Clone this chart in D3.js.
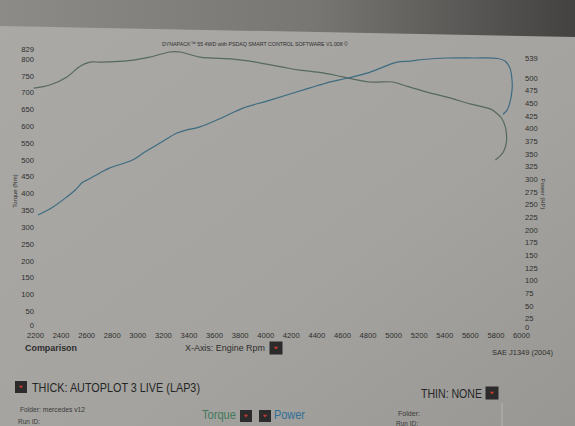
<!DOCTYPE html>
<html>
<head>
<meta charset="utf-8">
<script src="https://cdn.jsdelivr.net/npm/d3@7"></script>
<style>
  body { margin: 0; background: #a4a39f; }
  svg { display: block; font-family: "Liberation Sans", Arial, sans-serif; }
</style>
</head>
<body>
<div id="chart"></div>
<script>
// Axis ticks
const RPM_TICKS = [2200, 2400, 2600, 2800, 3000, 3200, 3400, 3600, 3800, 4000, 4200, 4400, 4600, 4800, 5000, 5200, 5400, 5600, 5800, 6000];
const TORQUE_TICKS = [0, 50, 100, 150, 200, 250, 300, 350, 400, 450, 500, 550, 600, 650, 700, 750, 800, 829];
const POWER_TICKS = [0, 25, 50, 75, 100, 125, 150, 175, 200, 225, 250, 275, 300, 325, 350, 375, 400, 425, 450, 475, 500, 539];

// Torque run (Nm), rpm falls back at the end of the pull
const TORQUE_RPM = [2190, 2317, 2450, 2552, 2630, 2708, 2966, 3099, 3256, 3334, 3490, 3748, 3881, 4139, 4272, 4452, 4608, 4819, 4999, 5077, 5234, 5421, 5601, 5760, 5808, 5847, 5878, 5886, 5862, 5800];
const TORQUE_NM = [713, 722, 746, 778, 790, 790, 796, 805, 820, 820, 805, 799, 793, 775, 766, 758, 746, 731, 731, 722, 704, 686, 666, 651, 639, 624, 597, 553, 523, 499];

// Power run (HP)
const POWER_RPM = [2223, 2341, 2450, 2513, 2575, 2607, 2708, 2786, 2966, 3044, 3177, 3310, 3388, 3490, 3670, 3826, 4014, 4194, 4350, 4483, 4639, 4796, 4921, 5030, 5132, 5234, 5421, 5624, 5820, 5875, 5914, 5930, 5930, 5914, 5891, 5859];
const POWER_HP = [229, 245, 265, 278, 294, 298, 312, 322, 338, 351, 371, 391, 397, 403, 422, 440, 454, 468, 480, 490, 499, 509, 521, 531, 533, 536, 539, 539, 538, 533, 519, 495, 476, 452, 436, 428];

const WIDTH = 575, HEIGHT = 426;
const TORQUE_COLOR = '#56695f';
const POWER_COLOR = '#3d6c82';
const TEXT_COLOR = '#2e2e2e';

const svg = d3.select('#chart').append('svg')
  .attr('width', WIDTH)
  .attr('height', HEIGHT);

// Photo paper look
const defs = svg.append('defs');
const paper = defs.append('linearGradient').attr('id', 'paper')
  .attr('x1', '0').attr('y1', '0').attr('x2', '1').attr('y2', '1');
paper.append('stop').attr('offset', '0').attr('stop-color', '#aaa9a5');
paper.append('stop').attr('offset', '0.6').attr('stop-color', '#a4a39f');
paper.append('stop').attr('offset', '1').attr('stop-color', '#989793');

const shadow = defs.append('linearGradient').attr('id', 'shadow')
  .attr('x1', '0').attr('y1', '0').attr('x2', '1').attr('y2', '0');
shadow.append('stop').attr('offset', '0').attr('stop-color', '#8d8b88');
shadow.append('stop').attr('offset', '0.55').attr('stop-color', '#777673');
shadow.append('stop').attr('offset', '1').attr('stop-color', '#434240');

svg.append('rect').attr('width', WIDTH).attr('height', HEIGHT).attr('fill', 'url(#paper)');
svg.append('path')
  .attr('d', `M0,0 L${WIDTH},0 L${WIDTH},37 L0,26 Z`)
  .attr('fill', 'url(#shadow)');

// Scales (right side sits a bit lower in the photo)
const x = d3.scaleLinear().domain([2200, 6000]).range([35, 521]);
const yT = d3.scaleLinear().domain([0, 829]).range([328, 49]);
const yP = d3.scaleLinear().domain([0, 539]).range([331, 58]);

// Axes, no lines, labels only
const xAxis = svg.append('g')
  .attr('transform', `translate(0, 329)`)
  .call(d3.axisBottom(x).tickValues(RPM_TICKS).tickSize(0).tickPadding(4).tickFormat(d3.format('d')));

const yAxisLeft = svg.append('g')
  .attr('transform', `translate(36, 0)`)
  .call(d3.axisLeft(yT).tickValues(TORQUE_TICKS).tickSize(0).tickPadding(2));

const yAxisRight = svg.append('g')
  .attr('transform', `translate(523, 0)`)
  .call(d3.axisRight(yP).tickValues(POWER_TICKS).tickSize(0).tickPadding(2));

[xAxis, yAxisLeft, yAxisRight].forEach(a => {
  a.select('.domain').remove();
  a.selectAll('text')
    .attr('fill', TEXT_COLOR)
    .style('font-size', '7.6px')
    .style('font-family', '"Liberation Sans", Arial, sans-serif');
});
// zero labels sit a touch higher so they clear the rpm labels
yAxisLeft.selectAll('.tick').filter(d => d === 0).select('text').attr('dy', '-0.05em');
yAxisRight.selectAll('.tick').filter(d => d === 0).select('text').attr('dy', '-0.15em');

// Axis titles
svg.append('text')
  .attr('transform', `translate(17, 191)rotate(-90)`)
  .attr('text-anchor', 'middle')
  .attr('fill', TEXT_COLOR)
  .style('font-size', '6px')
  .text('Torque (Nm)');

svg.append('text')
  .attr('transform', `translate(541, 194)rotate(90)`)
  .attr('text-anchor', 'middle')
  .attr('fill', TEXT_COLOR)
  .style('font-size', '6px')
  .text('Power (HP)');

svg.append('text')
  .attr('x', 162).attr('y', 46)
  .attr('fill', TEXT_COLOR)
  .attr('textLength', 186).attr('lengthAdjust', 'spacingAndGlyphs')
  .style('font-size', '6.2px')
  .text('DYNAPACK™ 55 4WD with PSDAQ SMART CONTROL SOFTWARE V1.008 ©');

// Curves
const torqueData = TORQUE_RPM.map((r, i) => ({rpm: r, v: TORQUE_NM[i]}));
const powerData = POWER_RPM.map((r, i) => ({rpm: r, v: POWER_HP[i]}));

svg.append('path')
  .datum(torqueData)
  .attr('fill', 'none')
  .attr('stroke', TORQUE_COLOR)
  .attr('stroke-width', 1.2)
  .attr('d', d3.line().x(d => x(d.rpm)).y(d => yT(d.v)).curve(d3.curveCatmullRom));

svg.append('path')
  .datum(powerData)
  .attr('fill', 'none')
  .attr('stroke', POWER_COLOR)
  .attr('stroke-width', 1.2)
  .attr('d', d3.line().x(d => x(d.rpm)).y(d => yP(d.v)).curve(d3.curveCatmullRom));

// Dropdown icon
function dropIcon(cx, cy, size) {
  const g = svg.append('g').attr('transform', `translate(${cx}, ${cy})`);
  g.append('rect')
    .attr('x', -size / 2).attr('y', -size / 2)
    .attr('width', size).attr('height', size)
    .attr('fill', '#2c2b2b');
  g.append('path')
    .attr('d', `M${-size * 0.18},${-size * 0.1} L${size * 0.18},${-size * 0.1} L0,${size * 0.12} Z`)
    .attr('fill', '#c23a30');
}

// Footer text fitted to the widths
function label(txt, x0, y0, width, size, color, bold) {
  svg.append('text')
    .attr('x', x0).attr('y', y0)
    .attr('fill', color)
    .attr('textLength', width).attr('lengthAdjust', 'spacingAndGlyphs')
    .style('font-size', size + 'px')
    .style('font-weight', bold ? 'bold' : 'normal')
    .text(txt);
}

label('Comparison', 25, 351, 52, 9.5, TEXT_COLOR, true);
label('X-Axis: Engine Rpm', 185, 351, 80, 9.5, TEXT_COLOR, false);
dropIcon(276, 348, 13);
label('SAE J1349 (2004)', 492, 355, 61, 7.5, TEXT_COLOR, false);

dropIcon(21, 387, 12);
label('THICK: AUTOPLOT 3 LIVE (LAP3)', 32, 392, 168, 12.5, '#262626', false);

label('THIN: NONE', 421, 398, 61, 12.5, '#262626', false);
dropIcon(492, 393, 13);

label('Folder: mercedes v12', 20, 412, 65, 6.5, '#3a3a3a', false);
label('Run ID:', 18, 424, 22, 6.5, '#3a3a3a', false);

label('Torque', 202, 419, 34, 12.5, '#3f7a5c', false);
dropIcon(246, 416, 12);
dropIcon(265, 416, 12);
label('Power', 274, 419, 31, 12.5, '#2f6e98', false);

label('Folder:', 398, 416, 22, 6.5, '#3a3a3a', false);
label('Run ID:', 396, 425.5, 22, 6.5, '#3a3a3a', false);

svg.append('line')
  .attr('x1', 502).attr('y1', 403).attr('x2', 502).attr('y2', 426)
  .attr('stroke', '#b6b5b1').attr('stroke-width', 1);
</script>
</body>
</html>
